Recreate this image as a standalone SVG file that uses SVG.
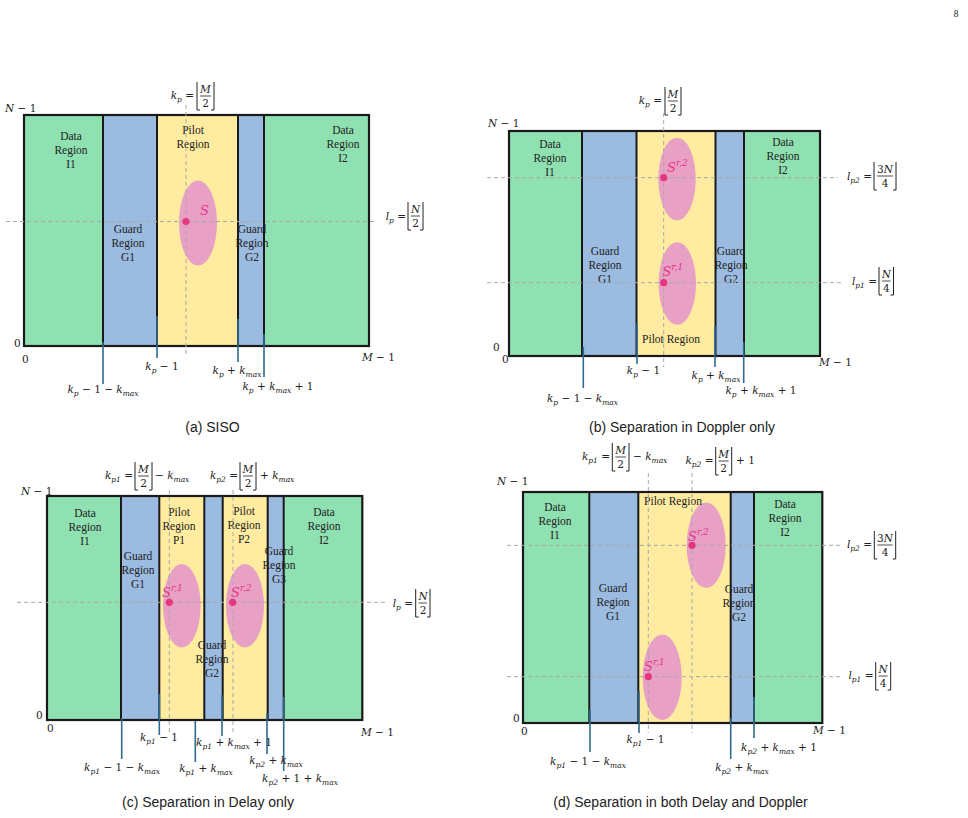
<svg xmlns="http://www.w3.org/2000/svg" width="968" height="818" viewBox="0 0 968 818">
<style>
.gr{fill:#90E1B2}.bl{fill:#9BBBE0}.ye{fill:#FFECA1}
.ell{fill:#E8A0C4}.dot{fill:#E4377D}
.div{stroke:#1a1a1a;stroke-width:2}
.frame{fill:none;stroke:#1a1a1a;stroke-width:2.2}
.dash{stroke:#a8a8a8;stroke-width:1;stroke-dasharray:4 3;fill:none}
.conn{stroke:#2F6B8C;stroke-width:1.6}
.br{fill:none;stroke:#222;stroke-width:1}
.fb{stroke:#222;stroke-width:0.8}
.t{font-family:"Liberation Serif",serif;font-size:11.5px;fill:#222;text-anchor:middle}
.m{font-family:"DejaVu Serif",serif;font-size:10.5px;font-style:italic;fill:#222}
.mc{text-anchor:middle}
.me{text-anchor:end}
.n{font-style:normal}
.s{font-size:7.5px}
.S{font-family:"DejaVu Serif",serif;font-size:13px;font-style:italic;fill:#E8338A}
.sup{font-size:9px}
.cap{font-family:"Liberation Sans",Arial,sans-serif;font-size:14px;fill:#222;text-anchor:middle}
</style>

<text x="956" y="17" font-family="Liberation Serif,serif" font-size="9.5" fill="#222" text-anchor="middle">8</text>

<!-- ================= Panel (a) ================= -->
<g id="panel-a">
  <g id="a-I1"><rect class="gr" x="24" y="115" width="79" height="231"/>
    <text class="t"><tspan x="71" y="140">Data</tspan><tspan x="71" y="154">Region</tspan><tspan x="71" y="168">I1</tspan></text></g>
  <g id="a-G1"><rect class="bl" x="103" y="115" width="54" height="231"/></g>
  <g id="a-P"><rect class="ye" x="157" y="115" width="81" height="231"/></g>
  <g id="a-G2"><rect class="bl" x="238" y="115" width="26" height="231"/></g>
  <g id="a-I2"><rect class="gr" x="264" y="115" width="105" height="231"/>
    <text class="t"><tspan x="343" y="134">Data</tspan><tspan x="343" y="148">Region</tspan><tspan x="343" y="162">I2</tspan></text></g>
  <ellipse class="ell" cx="198" cy="223" rx="19" ry="42.5"/>
  <line class="div" x1="103" y1="115" x2="103" y2="346"/>
  <line class="div" x1="157" y1="115" x2="157" y2="346"/>
  <line class="div" x1="238" y1="115" x2="238" y2="346"/>
  <line class="div" x1="264" y1="115" x2="264" y2="346"/>
  <rect class="frame" x="24" y="115" width="345" height="231"/>
  <text class="t"><tspan x="128" y="233">Guard</tspan><tspan x="128" y="247">Region</tspan><tspan x="128" y="261">G1</tspan></text>
  <text class="t"><tspan x="193" y="134">Pilot</tspan><tspan x="193" y="148">Region</tspan></text>
  <text class="t"><tspan x="252" y="233">Guard</tspan><tspan x="252" y="247">Region</tspan><tspan x="252" y="261">G2</tspan></text>
  <line class="dash" x1="6" y1="221.5" x2="377" y2="221.5"/>
  <line class="dash" x1="186" y1="105" x2="186" y2="357"/>
  <circle class="dot" cx="186" cy="221.5" r="3.6"/>
  <text class="S" x="200" y="215">S</text>
  <!-- axis labels -->
  <text class="m" x="5" y="112">N<tspan class="n"> − 1</tspan></text>
  <text class="m n" x="14" y="347">0</text>
  <text class="m n" x="22" y="363">0</text>
  <text class="m" x="362" y="361">M<tspan class="n"> − 1</tspan></text>
  <!-- kp = floor(M/2) -->
  <text class="m me" x="194" y="99">k<tspan class="s" dy="2.5">p</tspan><tspan class="n" dy="-2.5"> = </tspan></text>
  <polyline class="br" points="197,82 197,110 200,110"/>
  <polyline class="br" points="214,82 214,110 211,110"/>
  <text class="m mc" x="205.5" y="93">M</text>
  <line class="fb" x1="200" y1="96" x2="211" y2="96"/>
  <text class="m mc n" x="205.5" y="107">2</text>
  <!-- lp = floor(N/2) -->
  <text class="m me" x="406" y="220">l<tspan class="s" dy="2.5">p</tspan><tspan class="n" dy="-2.5"> = </tspan></text>
  <polyline class="br" points="408,202 408,230 411,230"/>
  <polyline class="br" points="423,202 423,230 420,230"/>
  <text class="m mc" x="415.5" y="213">N</text>
  <line class="fb" x1="411" y1="216" x2="420" y2="216"/>
  <text class="m mc n" x="415.5" y="227">2</text>
</g>

<!-- ================= Panel (b) ================= -->
<g id="panel-b">
  <g id="b-I1"><rect class="gr" x="509" y="131" width="73" height="225"/>
    <text class="t"><tspan x="550" y="148">Data</tspan><tspan x="550" y="162">Region</tspan><tspan x="550" y="176">I1</tspan></text></g>
  <g id="b-G1"><rect class="bl" x="582" y="131" width="54.5" height="225"/></g>
  <g id="b-P"><rect class="ye" x="636.5" y="131" width="79" height="225"/></g>
  <g id="b-G2"><rect class="bl" x="715.5" y="131" width="28.5" height="225"/></g>
  <g id="b-I2"><rect class="gr" x="744" y="131" width="76" height="225"/>
    <text class="t"><tspan x="783" y="146">Data</tspan><tspan x="783" y="160">Region</tspan><tspan x="783" y="174">I2</tspan></text></g>
  <ellipse class="ell" cx="677" cy="179" rx="18.7" ry="41.3"/>
  <ellipse class="ell" cx="677.3" cy="283.5" rx="18.7" ry="41.3"/>
  <line class="div" x1="582" y1="131" x2="582" y2="356"/>
  <line class="div" x1="636.5" y1="131" x2="636.5" y2="356"/>
  <line class="div" x1="715.5" y1="131" x2="715.5" y2="356"/>
  <line class="div" x1="744" y1="131" x2="744" y2="356"/>
  <rect class="frame" x="509" y="131" width="311" height="225"/>
  <text class="t"><tspan x="605" y="255">Guard</tspan><tspan x="605" y="269">Region</tspan><tspan x="605" y="283">G1</tspan></text>
  <text class="t" x="671" y="343">Pilot Region</text>
  <text class="t"><tspan x="731" y="255">Guard</tspan><tspan x="731" y="269">Region</tspan><tspan x="731" y="283">G2</tspan></text>
  <line class="dash" x1="487" y1="177.7" x2="838" y2="177.7"/>
  <line class="dash" x1="487" y1="282.7" x2="841" y2="282.7"/>
  <line class="dash" x1="663.7" y1="113" x2="663.7" y2="367"/>
  <circle class="dot" cx="663.7" cy="177.7" r="3.6"/>
  <circle class="dot" cx="663.7" cy="282.7" r="3.6"/>
  <text class="S" x="667" y="172">S<tspan class="sup" dy="-6">r,2</tspan></text>
  <text class="S" x="662.5" y="276">S<tspan class="sup" dy="-6">r,1</tspan></text>
  <text class="m" x="488" y="127">N<tspan class="n"> − 1</tspan></text>
  <text class="m n" x="493" y="351">0</text>
  <text class="m n" x="502" y="363">0</text>
  <text class="m" x="819" y="366">M<tspan class="n"> − 1</tspan></text>
  <!-- kp -->
  <text class="m me" x="662" y="104">k<tspan class="s" dy="2.5">p</tspan><tspan class="n" dy="-2.5"> = </tspan></text>
  <polyline class="br" points="665,87 665,115 668,115"/>
  <polyline class="br" points="681,87 681,115 678,115"/>
  <text class="m mc" x="673" y="98">M</text>
  <line class="fb" x1="668" y1="101" x2="678" y2="101"/>
  <text class="m mc n" x="673" y="112">2</text>
  <!-- lp2 -->
  <text class="m me" x="872" y="180">l<tspan class="s" dy="2.5">p2</tspan><tspan class="n" dy="-2.5"> = </tspan></text>
  <polyline class="br" points="874,162 874,190 877,190"/>
  <polyline class="br" points="896,162 896,190 893,190"/>
  <text class="m mc" x="885" y="173"><tspan class="n">3</tspan>N</text>
  <line class="fb" x1="877" y1="176" x2="893" y2="176"/>
  <text class="m mc n" x="885" y="187">4</text>
  <!-- lp1 -->
  <text class="m me" x="877" y="285">l<tspan class="s" dy="2.5">p1</tspan><tspan class="n" dy="-2.5"> = </tspan></text>
  <polyline class="br" points="879,267 879,295 882,295"/>
  <polyline class="br" points="893.5,267 893.5,295 890.5,295"/>
  <text class="m mc" x="886.3" y="278">N</text>
  <line class="fb" x1="882" y1="281" x2="890.5" y2="281"/>
  <text class="m mc n" x="886.3" y="292">4</text>
</g>

<!-- ================= Panel (c) ================= -->
<g id="panel-c">
  <g id="c-I1"><rect class="gr" x="47" y="496" width="74" height="224"/>
    <text class="t"><tspan x="85" y="517">Data</tspan><tspan x="85" y="531">Region</tspan><tspan x="85" y="545">I1</tspan></text></g>
  <g id="c-G1"><rect class="bl" x="121" y="496" width="38.3" height="224"/></g>
  <g id="c-P1"><rect class="ye" x="159.3" y="496" width="45" height="224"/></g>
  <g id="c-G2"><rect class="bl" x="204.3" y="496" width="18.4" height="224"/></g>
  <g id="c-P2"><rect class="ye" x="222.7" y="496" width="45" height="224"/></g>
  <g id="c-G3"><rect class="bl" x="267.7" y="496" width="16" height="224"/></g>
  <g id="c-I2"><rect class="gr" x="283.7" y="496" width="78.6" height="224"/>
    <text class="t"><tspan x="324" y="516">Data</tspan><tspan x="324" y="530">Region</tspan><tspan x="324" y="544">I2</tspan></text></g>
  <ellipse class="ell" cx="181.8" cy="605.7" rx="18.8" ry="41.7"/>
  <ellipse class="ell" cx="245" cy="605.7" rx="19" ry="41.7"/>
  <line class="div" x1="121" y1="496" x2="121" y2="720"/>
  <line class="div" x1="159.3" y1="496" x2="159.3" y2="720"/>
  <line class="div" x1="204.3" y1="496" x2="204.3" y2="720"/>
  <line class="div" x1="222.7" y1="496" x2="222.7" y2="720"/>
  <line class="div" x1="267.7" y1="496" x2="267.7" y2="720"/>
  <line class="div" x1="283.7" y1="496" x2="283.7" y2="720"/>
  <rect class="frame" x="47" y="496" width="315.3" height="224"/>
  <text class="t"><tspan x="138" y="560">Guard</tspan><tspan x="138" y="574">Region</tspan><tspan x="138" y="588">G1</tspan></text>
  <text class="t"><tspan x="179" y="516">Pilot</tspan><tspan x="179" y="530">Region</tspan><tspan x="179" y="544">P1</tspan></text>
  <text class="t"><tspan x="244" y="515">Pilot</tspan><tspan x="244" y="529">Region</tspan><tspan x="244" y="543">P2</tspan></text>
  <text class="t"><tspan x="279" y="555">Guard</tspan><tspan x="279" y="569">Region</tspan><tspan x="279" y="583">G3</tspan></text>
  <text class="t"><tspan x="212" y="649">Guard</tspan><tspan x="212" y="663">Region</tspan><tspan x="212" y="677">G2</tspan></text>
  <line class="dash" x1="17" y1="602.3" x2="388" y2="602.3"/>
  <line class="dash" x1="169.3" y1="490" x2="169.3" y2="734"/>
  <line class="dash" x1="233" y1="490" x2="233" y2="734"/>
  <circle class="dot" cx="169.3" cy="602.3" r="3.6"/>
  <circle class="dot" cx="232.7" cy="602.3" r="3.6"/>
  <text class="S" x="162" y="597">S<tspan class="sup" dy="-6">r,1</tspan></text>
  <text class="S" x="231" y="597">S<tspan class="sup" dy="-6">r,2</tspan></text>
  <text class="m" x="21" y="495">N<tspan class="n"> − 1</tspan></text>
  <text class="m n" x="36" y="719">0</text>
  <text class="m n" x="47" y="732">0</text>
  <text class="m" x="361" y="736">M<tspan class="n"> − 1</tspan></text>
  <!-- kp1 -->
  <text class="m me" x="133" y="479">k<tspan class="s" dy="2.5">p1</tspan><tspan class="n" dy="-2.5"> = </tspan></text>
  <polyline class="br" points="135,462 135,490 138,490"/>
  <polyline class="br" points="152,462 152,490 149,490"/>
  <text class="m mc" x="143.5" y="473">M</text>
  <line class="fb" x1="138" y1="476" x2="149" y2="476"/>
  <text class="m mc n" x="143.5" y="487">2</text>
  <text class="m" x="155" y="479"><tspan class="n">− </tspan>k<tspan class="s" dy="2.5">max</tspan></text>
  <!-- kp2 -->
  <text class="m me" x="238" y="479">k<tspan class="s" dy="2.5">p2</tspan><tspan class="n" dy="-2.5"> = </tspan></text>
  <polyline class="br" points="240,462 240,490 243,490"/>
  <polyline class="br" points="256,462 256,490 253,490"/>
  <text class="m mc" x="248" y="473">M</text>
  <line class="fb" x1="243" y1="476" x2="253" y2="476"/>
  <text class="m mc n" x="248" y="487">2</text>
  <text class="m" x="260" y="479"><tspan class="n">+ </tspan>k<tspan class="s" dy="2.5">max</tspan></text>
  <!-- lp -->
  <text class="m me" x="413" y="607">l<tspan class="s" dy="2.5">p</tspan><tspan class="n" dy="-2.5"> = </tspan></text>
  <polyline class="br" points="415.7,589 415.7,617 418.7,617"/>
  <polyline class="br" points="430,589 430,617 427,617"/>
  <text class="m mc" x="423" y="600">N</text>
  <line class="fb" x1="418.7" y1="603" x2="427" y2="603"/>
  <text class="m mc n" x="423" y="614">2</text>
</g>

<!-- ================= Panel (d) ================= -->
<g id="panel-d">
  <g id="d-I1"><rect class="gr" x="523" y="492" width="66.3" height="231"/>
    <text class="t"><tspan x="555" y="511">Data</tspan><tspan x="555" y="525">Region</tspan><tspan x="555" y="539">I1</tspan></text></g>
  <g id="d-G1"><rect class="bl" x="589.3" y="492" width="49" height="231"/></g>
  <g id="d-P"><rect class="ye" x="638.3" y="492" width="92.4" height="231"/></g>
  <g id="d-G2"><rect class="bl" x="730.7" y="492" width="23.3" height="231"/></g>
  <g id="d-I2"><rect class="gr" x="754" y="492" width="68.3" height="231"/>
    <text class="t"><tspan x="785" y="508">Data</tspan><tspan x="785" y="522">Region</tspan><tspan x="785" y="536">I2</tspan></text></g>
  <ellipse class="ell" cx="706.2" cy="545.3" rx="19.5" ry="42.7"/>
  <ellipse class="ell" cx="662.2" cy="677.2" rx="19.5" ry="42.8"/>
  <line class="div" x1="589.3" y1="492" x2="589.3" y2="723"/>
  <line class="div" x1="638.3" y1="492" x2="638.3" y2="723"/>
  <line class="div" x1="730.7" y1="492" x2="730.7" y2="723"/>
  <line class="div" x1="754" y1="492" x2="754" y2="723"/>
  <rect class="frame" x="523" y="492" width="299.3" height="231"/>
  <text class="t"><tspan x="613" y="592">Guard</tspan><tspan x="613" y="606">Region</tspan><tspan x="613" y="620">G1</tspan></text>
  <text class="t" x="673" y="505">Pilot Region</text>
  <text class="t"><tspan x="739" y="593">Guard</tspan><tspan x="739" y="607">Region</tspan><tspan x="739" y="621">G2</tspan></text>
  <line class="dash" x1="507" y1="545.3" x2="840" y2="545.3"/>
  <line class="dash" x1="507" y1="676.7" x2="840" y2="676.7"/>
  <line class="dash" x1="648.3" y1="473" x2="648.3" y2="733"/>
  <line class="dash" x1="692" y1="473" x2="692" y2="733"/>
  <circle class="dot" cx="692" cy="545.3" r="3.6"/>
  <circle class="dot" cx="648.3" cy="676.7" r="3.6"/>
  <text class="S" x="688" y="541">S<tspan class="sup" dy="-6">r,2</tspan></text>
  <text class="S" x="644" y="671">S<tspan class="sup" dy="-6">r,1</tspan></text>
  <text class="m" x="497" y="485">N<tspan class="n"> − 1</tspan></text>
  <text class="m n" x="513" y="721.5">0</text>
  <text class="m n" x="521" y="735">0</text>
  <text class="m" x="813" y="734">M<tspan class="n"> − 1</tspan></text>
  <!-- kp1 -->
  <text class="m me" x="610" y="460">k<tspan class="s" dy="2.5">p1</tspan><tspan class="n" dy="-2.5"> = </tspan></text>
  <polyline class="br" points="612.3,443 612.3,471 615.3,471"/>
  <polyline class="br" points="629,443 629,471 626,471"/>
  <text class="m mc" x="620.7" y="454">M</text>
  <line class="fb" x1="615.3" y1="457" x2="626" y2="457"/>
  <text class="m mc n" x="620.7" y="468">2</text>
  <text class="m" x="633" y="460"><tspan class="n">− </tspan>k<tspan class="s" dy="2.5">max</tspan></text>
  <!-- kp2 -->
  <text class="m me" x="713.5" y="464">k<tspan class="s" dy="2.5">p2</tspan><tspan class="n" dy="-2.5"> = </tspan></text>
  <polyline class="br" points="715.7,447 715.7,475 718.7,475"/>
  <polyline class="br" points="731.7,447 731.7,475 728.7,475"/>
  <text class="m mc" x="723.7" y="458">M</text>
  <line class="fb" x1="718.7" y1="461" x2="728.7" y2="461"/>
  <text class="m mc n" x="723.7" y="472">2</text>
  <text class="m n" x="736" y="464">+ 1</text>
  <!-- lp2 -->
  <text class="m me" x="872" y="548">l<tspan class="s" dy="2.5">p2</tspan><tspan class="n" dy="-2.5"> = </tspan></text>
  <polyline class="br" points="874.3,531 874.3,559 877.3,559"/>
  <polyline class="br" points="895.7,531 895.7,559 892.7,559"/>
  <text class="m mc" x="885" y="542"><tspan class="n">3</tspan>N</text>
  <line class="fb" x1="877.3" y1="545" x2="892.7" y2="545"/>
  <text class="m mc n" x="885" y="556">4</text>
  <!-- lp1 -->
  <text class="m me" x="873.5" y="679">l<tspan class="s" dy="2.5">p1</tspan><tspan class="n" dy="-2.5"> = </tspan></text>
  <polyline class="br" points="875.7,662 875.7,690 878.7,690"/>
  <polyline class="br" points="890.7,662 890.7,690 887.7,690"/>
  <text class="m mc" x="883.2" y="673">N</text>
  <line class="fb" x1="878.7" y1="676" x2="887.7" y2="676"/>
  <text class="m mc n" x="883.2" y="687">4</text>
</g>

<!-- ================= connectors ================= -->
<g id="connectors">
  <line class="conn" x1="103" y1="342" x2="103" y2="384"/>
  <line class="conn" x1="157" y1="316" x2="157" y2="358"/>
  <line class="conn" x1="238" y1="319" x2="238" y2="362"/>
  <line class="conn" x1="264" y1="334" x2="264" y2="377"/>

  <line class="conn" x1="583.3" y1="347" x2="583.3" y2="388"/>
  <line class="conn" x1="637" y1="323" x2="637" y2="364"/>
  <line class="conn" x1="715" y1="326" x2="715" y2="367"/>
  <line class="conn" x1="743.7" y1="342" x2="743.7" y2="383"/>

  <line class="conn" x1="121.7" y1="718" x2="121.7" y2="759"/>
  <line class="conn" x1="159.3" y1="694" x2="159.3" y2="735"/>
  <line class="conn" x1="195.3" y1="721" x2="195.3" y2="762"/>
  <line class="conn" x1="222" y1="695" x2="222" y2="736"/>
  <line class="conn" x1="267" y1="713" x2="267" y2="754"/>
  <line class="conn" x1="283.7" y1="697" x2="283.7" y2="771"/>

  <line class="conn" x1="590" y1="710" x2="590" y2="752"/>
  <line class="conn" x1="639" y1="691" x2="639" y2="733"/>
  <line class="conn" x1="730.7" y1="718" x2="730.7" y2="759"/>
  <line class="conn" x1="754" y1="697" x2="754" y2="738"/>
</g>

<!-- connector labels -->
<g id="connector-labels">
  <text class="m mc" x="103" y="393">k<tspan class="s" dy="2.5">p</tspan><tspan class="n" dy="-2.5"> − 1 − </tspan>k<tspan class="s" dy="2.5">max</tspan></text>
  <text class="m mc" x="162" y="370">k<tspan class="s" dy="2.5">p</tspan><tspan class="n" dy="-2.5"> − 1</tspan></text>
  <text class="m mc" x="237" y="374">k<tspan class="s" dy="2.5">p</tspan><tspan class="n" dy="-2.5"> + </tspan>k<tspan class="s" dy="2.5">max</tspan></text>
  <text class="m mc" x="278" y="390">k<tspan class="s" dy="2.5">p</tspan><tspan class="n" dy="-2.5"> + </tspan>k<tspan class="s" dy="2.5">max</tspan><tspan class="n" dy="-2.5"> + 1</tspan></text>

  <text class="m mc" x="582.5" y="402">k<tspan class="s" dy="2.5">p</tspan><tspan class="n" dy="-2.5"> − 1 − </tspan>k<tspan class="s" dy="2.5">max</tspan></text>
  <text class="m mc" x="643.5" y="374">k<tspan class="s" dy="2.5">p</tspan><tspan class="n" dy="-2.5"> − 1</tspan></text>
  <text class="m mc" x="716" y="379">k<tspan class="s" dy="2.5">p</tspan><tspan class="n" dy="-2.5"> + </tspan>k<tspan class="s" dy="2.5">max</tspan></text>
  <text class="m mc" x="761" y="394">k<tspan class="s" dy="2.5">p</tspan><tspan class="n" dy="-2.5"> + </tspan>k<tspan class="s" dy="2.5">max</tspan><tspan class="n" dy="-2.5"> + 1</tspan></text>

  <text class="m mc" x="122" y="771">k<tspan class="s" dy="2.5">p1</tspan><tspan class="n" dy="-2.5"> − 1 − </tspan>k<tspan class="s" dy="2.5">max</tspan></text>
  <text class="m mc" x="159" y="741">k<tspan class="s" dy="2.5">p1</tspan><tspan class="n" dy="-2.5"> − 1</tspan></text>
  <text class="m mc" x="206" y="772">k<tspan class="s" dy="2.5">p1</tspan><tspan class="n" dy="-2.5"> + </tspan>k<tspan class="s" dy="2.5">max</tspan></text>
  <text class="m mc" x="234" y="746">k<tspan class="s" dy="2.5">p1</tspan><tspan class="n" dy="-2.5"> + </tspan>k<tspan class="s" dy="2.5">max</tspan><tspan class="n" dy="-2.5"> + 1</tspan></text>
  <text class="m mc" x="276" y="764">k<tspan class="s" dy="2.5">p2</tspan><tspan class="n" dy="-2.5"> + </tspan>k<tspan class="s" dy="2.5">max</tspan></text>
  <text class="m mc" x="300" y="782">k<tspan class="s" dy="2.5">p2</tspan><tspan class="n" dy="-2.5"> + 1 + </tspan>k<tspan class="s" dy="2.5">max</tspan></text>

  <text class="m mc" x="588" y="765">k<tspan class="s" dy="2.5">p1</tspan><tspan class="n" dy="-2.5"> − 1 − </tspan>k<tspan class="s" dy="2.5">max</tspan></text>
  <text class="m mc" x="645.5" y="743">k<tspan class="s" dy="2.5">p1</tspan><tspan class="n" dy="-2.5"> − 1</tspan></text>
  <text class="m mc" x="742" y="771">k<tspan class="s" dy="2.5">p2</tspan><tspan class="n" dy="-2.5"> + </tspan>k<tspan class="s" dy="2.5">max</tspan></text>
  <text class="m mc" x="779" y="751">k<tspan class="s" dy="2.5">p2</tspan><tspan class="n" dy="-2.5"> + </tspan>k<tspan class="s" dy="2.5">max</tspan><tspan class="n" dy="-2.5"> + 1</tspan></text>
</g>

<text class="cap" x="212.5" y="432">(a) SISO</text>
<text class="cap" x="682" y="432">(b) Separation in Doppler only</text>
<text class="cap" x="208" y="807">(c) Separation in Delay only</text>
<text class="cap" x="680.5" y="807">(d) Separation in both Delay and Doppler</text>
</svg>
